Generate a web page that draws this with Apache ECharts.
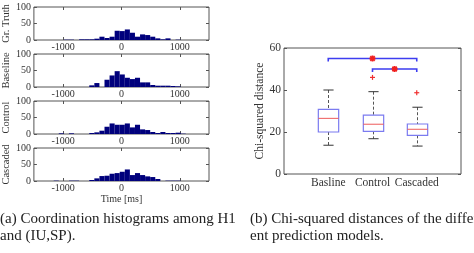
<!DOCTYPE html>
<html>
<head>
<meta charset="utf-8">
<script src="https://cdn.jsdelivr.net/npm/echarts@6/dist/echarts.min.js"></script>
<style>
html, body { margin: 0; padding: 0; background: #fff; }
#chart { width: 474px; height: 253px; }
</style>
</head>
<body>
<div id="chart"></div>
<script>
// histogram bins: centre of each bin in ms
var binCenters = [-1204, -1117, -1030, -943, -856, -769, -682, -595, -508, -421, -334, -247, -160, -73,
    14, 101, 188, 275, 362, 449, 536, 623, 710, 797, 884, 971, 1058];
var binWidth = 87;
var histNames = ['Gr. Truth', 'Baseline', 'Control', 'Cascaded'];
var grTruth  = [0, 0, 0, 1, 1, 0, 2, 2, 2, 4, 10, 6, 10, 28, 27, 32, 22, 10, 17, 15, 10, 5, 2, 5, 0, 1, 0];
var baseline = [0, 0, 0, 0, 0, 0, 0, 0, 5, 12, 0, 22, 35, 48, 38, 28, 24, 28, 14, 14, 6, 4, 4, 4, 3, 2, 0];
var control  = [0, 0, 2, 0, 2, 0, 0, 0, 3, 5, 10, 22, 32, 28, 28, 32, 20, 28, 14, 12, 6, 3, 6, 3, 3, 4, 1];
var cascaded = [0, 1, 0, 0, 1, 1, 0, 0, 3, 8, 15, 16, 22, 24, 28, 35, 18, 24, 18, 14, 12, 6, 0, 1, 1, 1, 0];
var histTicks = [-1000, 0, 1000];

// box plot: [min, q1, median, q3, max]
var boxCats = ['Basline', 'Control', 'Cascaded'];
var boxStats = [
    [13.7, 20.0, 26.5, 30.8, 40.0],
    [16.8, 20.3, 23.7, 28.0, 39.2],
    [13.3, 18.4, 21.3, 23.8, 31.8]
];
var outliers = [[2, 46], [3, 38.7]];
var brackets = [[1, 3, 55], [2, 3, 50]];
var stars = [[2, 55], [2.5, 50]];

var chart = echarts.init(document.getElementById('chart'), null, { renderer: 'canvas' });

var serif = '"Liberation Serif", "Times New Roman", serif';
var frame = '#555';
var txt = '#333';
var histTops = [7, 54, 101, 148];
var histData = [grTruth, baseline, control, cascaded];
var noLine = { show: false, onZero: false };
var plain = function (v) { return String(v); };

var grids = [], xAxes = [], yAxes = [], series = [];

histData.forEach(function (vals, i) {
    grids.push({ left: 33, width: 176, top: histTops[i], height: 33, show: true,
        borderColor: frame, borderWidth: 1, backgroundColor: 'transparent' });
    var isLast = i === histData.length - 1;
    xAxes.push({
        type: 'value', gridIndex: i, min: -1500, max: 1500,
        axisLine: noLine, splitLine: { show: false },
        axisTick: { inside: true, length: 3, customValues: histTicks, lineStyle: { color: frame } },
        axisLabel: { customValues: histTicks, margin: 2, fontFamily: serif, fontSize: 10, color: txt, formatter: plain },
        name: isLast ? 'Time [ms]' : '', nameLocation: 'middle', nameGap: 13,
        nameTextStyle: { fontFamily: serif, fontSize: 10, color: txt }
    });
    xAxes.push({
        type: 'value', gridIndex: i, position: 'top', min: -1500, max: 1500,
        axisLine: noLine, splitLine: { show: false }, axisLabel: { show: false },
        axisTick: { inside: true, length: 3, customValues: histTicks, lineStyle: { color: frame } }
    });
    yAxes.push({
        type: 'value', gridIndex: i, min: 0, max: 100, interval: 50,
        axisLine: noLine, splitLine: { show: false },
        axisTick: { show: true, inside: true, length: 3, lineStyle: { color: frame } },
        axisLabel: { margin: 3, fontFamily: serif, fontSize: 10, color: txt },
        name: histNames[i], nameLocation: 'middle', nameGap: 20, nameRotate: 90,
        nameTextStyle: { fontFamily: serif, fontSize: 10.5, color: txt }
    });
    yAxes.push({
        type: 'value', gridIndex: i, position: 'right', min: 0, max: 100, interval: 50,
        axisLine: noLine, splitLine: { show: false }, axisLabel: { show: false },
        axisTick: { show: true, inside: true, length: 3, lineStyle: { color: frame } }
    });
    series.push({
        type: 'custom', xAxisIndex: 2 * i, yAxisIndex: 2 * i,
        data: binCenters.map(function (c, j) { return [c, vals[j]]; }),
        renderItem: function (params, api) {
            var x = api.value(0), y = api.value(1);
            if (!y) return null;
            var p0 = api.coord([x - binWidth / 2, y]);
            var p1 = api.coord([x + binWidth / 2, 0]);
            return { type: 'rect',
                shape: { x: p0[0], y: p0[1], width: p1[0] - p0[0], height: p1[1] - p0[1] },
                style: { fill: '#00007c' } };
        }
    });
});

// box plot panel
var bg = histData.length;
grids.push({ left: 284, width: 177, top: 48, height: 126, show: true,
    borderColor: frame, borderWidth: 1, backgroundColor: 'transparent' });
xAxes.push({
    type: 'value', gridIndex: bg, min: 0, max: 4,
    axisLine: noLine, splitLine: { show: false },
    axisTick: { show: false },
    axisLabel: { customValues: [1, 2, 3], margin: 3, fontFamily: serif, fontSize: 11.5, color: txt,
        formatter: function (v) { return boxCats[v - 1]; } }
});
yAxes.push({
    type: 'value', gridIndex: bg, min: 0, max: 60, interval: 20,
    axisLine: noLine, splitLine: { show: false },
    axisTick: { show: true, inside: true, length: 3, lineStyle: { color: frame } },
    axisLabel: { margin: 3, fontFamily: serif, fontSize: 11.5, color: txt },
    name: 'Chi-squared distance', nameLocation: 'middle', nameGap: 12, nameRotate: 90,
    nameTextStyle: { fontFamily: serif, fontSize: 11.5, color: txt }
});
yAxes.push({
    type: 'value', gridIndex: bg, position: 'right', min: 0, max: 60, interval: 20,
    axisLine: noLine, splitLine: { show: false }, axisLabel: { show: false },
    axisTick: { show: true, inside: true, length: 3, lineStyle: { color: frame } }
});

var bx = xAxes.length - 1, by = yAxes.length - 2;

series.push({
    type: 'custom', xAxisIndex: bx, yAxisIndex: by,
    data: boxStats.map(function (s, i) { return [i + 1].concat(s); }),
    renderItem: function (params, api) {
        var x = api.value(0);
        var half = api.size([1, 0])[0] * 0.23;
        var cap = half * 0.5;
        var lo = api.coord([x, api.value(1)]);
        var q1 = api.coord([x, api.value(2)]);
        var md = api.coord([x, api.value(3)]);
        var q3 = api.coord([x, api.value(4)]);
        var hi = api.coord([x, api.value(5)]);
        var cx = Math.round(lo[0]) + 0.5;
        var dash = { stroke: '#555', lineWidth: 1, lineDash: [3, 2] };
        var solid = { stroke: '#333', lineWidth: 1 };
        return { type: 'group', children: [
            { type: 'line', shape: { x1: cx, y1: hi[1], x2: cx, y2: q3[1] }, style: dash },
            { type: 'line', shape: { x1: cx, y1: q1[1], x2: cx, y2: lo[1] }, style: dash },
            { type: 'line', shape: { x1: cx - cap, y1: hi[1], x2: cx + cap, y2: hi[1] }, style: solid },
            { type: 'line', shape: { x1: cx - cap, y1: lo[1], x2: cx + cap, y2: lo[1] }, style: solid },
            { type: 'rect', shape: { x: cx - half, y: q3[1], width: 2 * half, height: q1[1] - q3[1] },
                style: { fill: '#fff', stroke: '#7b7bf0', lineWidth: 1.2 } },
            { type: 'line', shape: { x1: cx - half, y1: md[1], x2: cx + half, y2: md[1] },
                style: { stroke: '#ee5a5a', lineWidth: 1 } }
        ] };
    }
});

series.push({
    type: 'custom', xAxisIndex: bx, yAxisIndex: by, data: brackets,
    renderItem: function (params, api) {
        var a = api.coord([api.value(0), api.value(2)]);
        var b = api.coord([api.value(1), api.value(2)]);
        return { type: 'polyline',
            shape: { points: [[a[0], a[1] + 3], a, b, [b[0], b[1] + 3]] },
            style: { stroke: '#3d3df0', lineWidth: 1.6, fill: null } };
    }
});

function cross(p, r, diag) {
    var kids = [
        { type: 'line', shape: { x1: p[0] - r, y1: p[1], x2: p[0] + r, y2: p[1] } },
        { type: 'line', shape: { x1: p[0], y1: p[1] - r, x2: p[0], y2: p[1] + r } }
    ];
    if (diag) {
        var d = r * 0.75;
        kids.push({ type: 'line', shape: { x1: p[0] - d, y1: p[1] - d, x2: p[0] + d, y2: p[1] + d } });
        kids.push({ type: 'line', shape: { x1: p[0] - d, y1: p[1] + d, x2: p[0] + d, y2: p[1] - d } });
    }
    return kids;
}

series.push({
    type: 'custom', xAxisIndex: bx, yAxisIndex: by, data: outliers,
    renderItem: function (params, api) {
        var p = api.coord([api.value(0), api.value(1)]);
        var kids = cross(p, 2.5, false);
        kids.forEach(function (k) { k.style = { stroke: '#f03030', lineWidth: 1.2 }; });
        return { type: 'group', children: kids };
    }
});

series.push({
    type: 'custom', xAxisIndex: bx, yAxisIndex: by, data: stars,
    z: 5,
    renderItem: function (params, api) {
        var p = api.coord([api.value(0), api.value(1)]);
        var kids = cross(p, 3, true);
        kids.forEach(function (k) { k.style = { stroke: '#f02020', lineWidth: 1.8 }; });
        return { type: 'group', children: kids };
    }
});

var capFont = '15px ' + serif;
var option = {
    animation: false,
    backgroundColor: '#fff',
    grid: grids,
    xAxis: xAxes,
    yAxis: yAxes,
    series: series,
    graphic: [
        { type: 'text', left: 0, top: 212, style: { text: '(a) Coordination histograms among H1', font: capFont, fill: '#222' } },
        { type: 'text', left: 0, top: 229, style: { text: 'and (IU,SP).', font: capFont, fill: '#222' } },
        { type: 'text', left: 250, top: 212, style: { text: '(b) Chi-squared distances of the differ-', font: capFont, fill: '#222' } },
        { type: 'text', left: 250, top: 229, style: { text: 'ent prediction models.', font: capFont, fill: '#222' } }
    ]
};

chart.setOption(option);
</script>
</body>
</html>
